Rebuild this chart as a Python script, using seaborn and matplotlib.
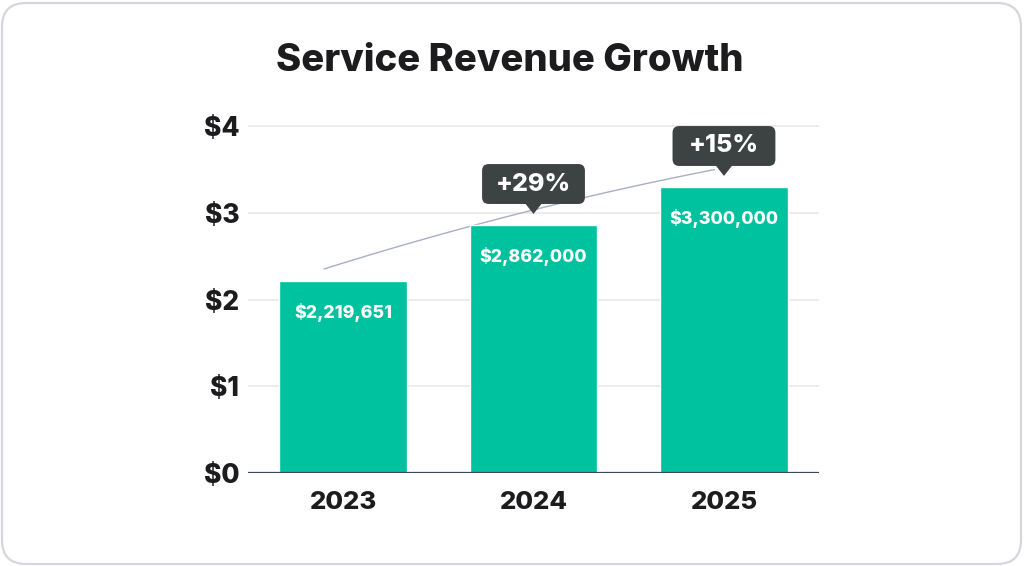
import numpy as np
import pandas as pd
import matplotlib
matplotlib.use("Agg")
import matplotlib.pyplot as plt
import seaborn as sns
from matplotlib.patches import FancyBboxPatch, Polygon
from matplotlib.transforms import IdentityTransform

# ---- data ----
years = ["2023", "2024", "2025"]
revenue = [2219651, 2862000, 3300000]
ytick_vals = [0, 1, 2, 3, 4]
ytick_labels = ["$0", "$1", "$2", "$3", "$4"]
title = "Service Revenue Growth"

BAR = "#00c29e"
DARK = "#1c1c1e"
CALLOUT = "#3d4242"
W = 800  # extra bold

sns.set_theme(style="white")
plt.rcParams["font.family"] = ["Inter", "DejaVu Sans"]

df = pd.DataFrame({"year": years, "rev_m": [v / 1e6 for v in revenue]})

fig = plt.figure(figsize=(10.24, 5.66), dpi=100)
fig.patch.set_facecolor("white")

# card border
card = FancyBboxPatch((2, 2), 1019, 561, boxstyle="round,pad=0,rounding_size=24",
                      transform=IdentityTransform(), facecolor="white",
                      edgecolor="#d6d6dc", linewidth=1.6, zorder=0)
fig.add_artist(card)

ax = fig.add_axes([0.242, 0.164, 0.558, 0.621])
ax.set_facecolor("none")

sns.barplot(data=df, x="year", y="rev_m", color=BAR, saturation=1, width=0.67,
            ax=ax, zorder=3)

ax.set_xlim(-0.5, 2.5)
ax.set_ylim(0, 4.05)
ax.set_yticks(ytick_vals)
ax.set_yticklabels(ytick_labels)
ax.set_xlabel("")
ax.set_ylabel("")
for s in ax.spines.values():
    s.set_visible(False)
ax.grid(axis="y", color="#e9e9ec", linewidth=1.2, zorder=0)
ax.axhline(0, color="#3a4760", linewidth=1.6, zorder=4)
ax.tick_params(axis="y", length=0, pad=6, labelsize=19, labelcolor=DARK)
ax.tick_params(axis="x", length=0, pad=13, labelsize=18.5, labelcolor=DARK)
for lbl in ax.get_yticklabels() + ax.get_xticklabels():
    lbl.set_fontweight(W)

vals = df["rev_m"].to_numpy()

# trend curve (decorative), passing above bars
tx = np.array([-0.1, 1.0, 1.95])
ty = vals * 1.06
coef = np.polyfit(tx, ty, 2)
xs = np.linspace(tx[0], tx[-1], 100)
ax.plot(xs, np.polyval(coef, xs), color="#a9afc2", linewidth=1.0, zorder=2)

# value labels inside bars
for i, v in enumerate(revenue):
    ax.text(i, vals[i] - 0.37, f"${v:,.0f}", ha="center", va="center",
            color="white", fontsize=12.8, fontweight=W, zorder=6)

# growth callouts
bw, bh = 0.54, 0.46
aspect = (190 / 86.75)
for i in range(1, len(revenue)):
    g = round((revenue[i] / revenue[i - 1] - 1) * 100)
    cy = vals[i] + 0.47
    bottom = cy - bh / 2
    box = FancyBboxPatch((i - bw / 2, bottom), bw, bh,
                         boxstyle="round,pad=0,rounding_size=0.035",
                         mutation_aspect=aspect,
                         facecolor=CALLOUT, edgecolor="none", zorder=7)
    ax.add_patch(box)
    tri = Polygon([(i - 0.045, bottom + 0.01), (i + 0.045, bottom + 0.01),
                   (i, bottom - 0.115)], closed=True, facecolor=CALLOUT,
                  edgecolor="none", zorder=7)
    ax.add_patch(tri)
    ax.text(i, cy, f"+{g}%", ha="center", va="center", color="white",
            fontsize=18, fontweight=W, zorder=8)

fig.text(0.498, 0.893, title, ha="center", va="center", fontsize=27.5,
         fontweight=W, color=DARK)

fig.savefig("out.png", dpi=100, facecolor="white")
